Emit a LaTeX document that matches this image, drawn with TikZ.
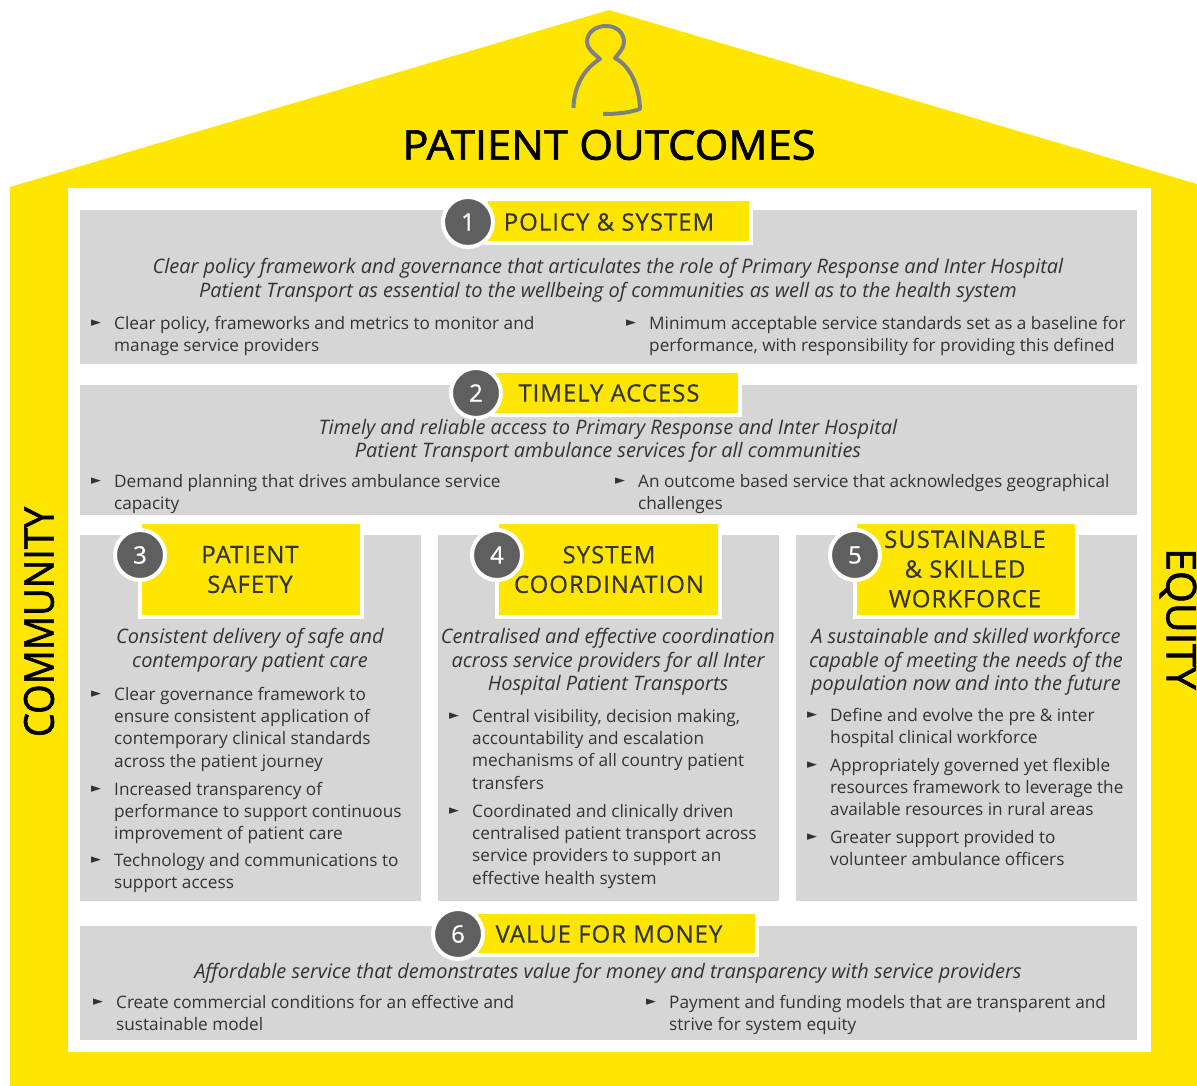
\documentclass[tikz,border=0pt]{standalone}
\usepackage{fontspec}
\setmainfont{Open Sans}
\newfontfamily\tri{DejaVu Sans}
\newfontfamily\bigface[FakeBold=1.6]{Open Sans}
\newfontfamily\numface[FakeBold=0.8]{Open Sans}
\newfontfamily\tagface[FakeBold=0.4,LetterSpace=4]{Open Sans}
\definecolor{eyyellow}{HTML}{FFE600}
\definecolor{eygrey}{HTML}{D6D6D6}
\definecolor{eydark}{HTML}{5F5F5F}
\definecolor{eytext}{HTML}{333333}
\definecolor{eyicon}{HTML}{808080}
\tikzset{
  panel/.style={fill=eygrey,draw=none},
  tagwhite/.style={fill=white,draw=none},
  tagyellow/.style={fill=eyyellow,draw=none},
  numdisc/.style={circle,fill=eydark,draw=white,line width=4pt,minimum size=50pt,inner sep=0pt,text=white,font=\numface\fontsize{24}{26}\selectfont},
  tagtext/.style={text=eytext,align=center,inner sep=0pt,font=\tagface\fontsize{24}{29.7}\selectfont},
  lead/.style={text=eytext,align=center,inner sep=0pt,anchor=north,yshift=15pt,font=\fontsize{19.95}{23.6}\selectfont\itshape},
  body/.style={text=eytext,align=left,inner sep=0pt,anchor=north west,yshift=15pt,font=\fontsize{17.2}{22.3}\selectfont},
  bulletmark/.style={text=eytext,inner sep=0pt,font=\tri\fontsize{13}{14}\selectfont},
  bigword/.style={text=black,inner sep=0pt,font=\bigface\fontsize{41}{43}\selectfont}
}
\newcommand{\leadtext}[4]{\node[lead] (#1) at (#2,#3) {\rule{0pt}{15pt}#4};}
\newcommand{\bul}[4]{%
  \node[bulletmark] (#1m) at (#2-18,#3-5.5) {►};
  \node[body] (#1) at (#2,#3) {\rule{0pt}{15pt}#4};}
\newcommand{\tag}[8]{% name, x1,y1,x2,y2, cx, cy, num
  \fill[tagwhite] (#2-4,#3-3) rectangle (#4+4,#5+4);
  \fill[tagyellow] (#2,#3) rectangle (#4,#5);
  \node[numdisc] (#1) at (#6,#7) {#8};}
\begin{document}
\begin{tikzpicture}[x=1pt,y=-1pt]
\useasboundingbox (0,0) rectangle (1197,1086);
\fill[white] (0,0) rectangle (1197,1086);
\fill[eyyellow] (10,187) -- (609,10) -- (1197,184) -- (1197,1086) -- (10,1086) -- cycle;
\fill[white] (68,188) rectangle (1151,1052);
\foreach \a/\b/\c/\d in {80/210/1137/364, 80/385/1137/515, 80/535/421/901, 438/535/779/901, 796/535/1137/901, 80/926/1137/1040}
  \fill[panel] (\a,\b) rectangle (\c,\d);
% icon
\draw[eyicon,line width=4pt,line cap=butt,line join=round]
  (573.5,108) .. controls (574,85) and (585,68) .. (600,59)
  .. controls (592,52) and (587,48) .. (587,42)
  .. controls (587,32) and (596,26) .. (606,26)
  .. controls (617,26) and (624,33) .. (624,42)
  .. controls (624,48) and (619,53) .. (615,58)
  .. controls (630,66) and (639,85) .. (640,109)
  .. controls (628,113) and (617,114) .. (603,114);
\node[bigword,xscale=1.06] (title) at (609,145) {PATIENT OUTCOMES};
\node[bigword,rotate=90,xscale=.925] (community) at (39,622) {COMMUNITY};
\node[bigword,rotate=-90] (equity) at (1178,619) {EQUITY};
% tags
\tag{n1}{488}{201}{749}{241}{468}{222}{1}
\node[tagtext] (t1) at (609,222) {POLICY \& SYSTEM};
\tag{n2}{495}{373}{738}{413}{476}{393}{2}
\node[tagtext] (t2) at (609,393) {TIMELY ACCESS};
\tag{n3}{142}{524}{360}{615}{140}{555}{3}
\node[tagtext] (t3) at (250,569.5) {PATIENT\\SAFETY};
\tag{n4}{499}{524}{718}{615}{497}{555}{4}
\node[tagtext] (t4) at (609,569.5) {SYSTEM\\COORDINATION};
\tag{n5}{857}{524}{1075}{615}{855}{555}{5}
\node[tagtext] (t5) at (965,569) {SUSTAINABLE\\\& SKILLED\\WORKFORCE};
\tag{n6}{478}{914}{755}{953}{458}{934}{6}
\node[tagtext] (t6) at (609,934) {VALUE FOR MONEY};
% panel 1
\leadtext{l1}{608}{273}{Clear policy framework and governance that articulates the role of Primary Response and Inter Hospital\\Patient Transport as essential to the wellbeing of communities as well as to the health system}
\bul{b11}{114}{329}{Clear policy, frameworks and metrics to monitor and\\manage service providers}
\bul{b12}{649}{329}{Minimum acceptable service standards set as a baseline for\\performance, with responsibility for providing this defined}
% panel 2
\leadtext{l2}{608}{434}{Timely and reliable access to Primary Response and Inter Hospital\\Patient Transport ambulance services for all communities}
\bul{b21}{114}{487}{Demand planning that drives ambulance service\\capacity}
\bul{b22}{638}{487}{An outcome based service that acknowledges geographical\\challenges}
% panel 3
\leadtext{l3}{250}{643}{Consistent delivery of safe and\\contemporary patient care}
\bul{b31}{114}{700}{Clear governance framework to\\ensure consistent application of\\contemporary clinical standards\\across the patient journey}
\bul{b32}{114}{795}{Increased transparency of\\performance to support continuous\\improvement of patient care}
\bul{b33}{114}{866}{Technology and communications to\\support access}
% panel 4
\leadtext{l4}{608}{643}{Centralised and effective coordination\\across service providers for all Inter\\Hospital Patient Transports}
\bul{b41}{472}{722}{Central visibility, decision making,\\accountability and escalation\\mechanisms of all country patient\\transfers}
\bul{b42}{472}{817}{Coordinated and clinically driven\\centralised patient transport across\\service providers to support an\\effective health system}
% panel 5
\leadtext{l5}{966}{643}{A sustainable and skilled workforce\\capable of meeting the needs of the\\population now and into the future}
\bul{b51}{830}{721}{Define and evolve the pre \& inter\\hospital clinical workforce}
\bul{b52}{830}{771}{Appropriately governed yet flexible\\resources framework to leverage the\\available resources in rural areas}
\bul{b53}{830}{843}{Greater support provided to\\volunteer ambulance officers}
% panel 6
\leadtext{l6}{608}{978}{Affordable service that demonstrates value for money and transparency with service providers}
\bul{b61}{116}{1008}{Create commercial conditions for an effective and\\sustainable model}
\bul{b62}{669}{1008}{Payment and funding models that are transparent and\\strive for system equity}
\end{tikzpicture}
\end{document}
